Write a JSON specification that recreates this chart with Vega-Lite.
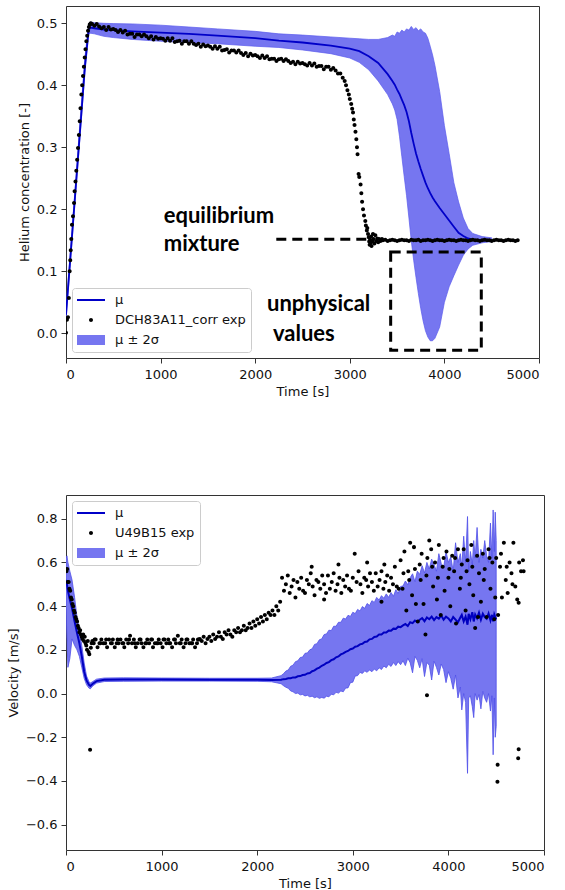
{
"$schema": "https://vega.github.io/schema/vega-lite/v6.json",
"padding": {"left": 6, "top": 5, "right": 5, "bottom": 3},
"datasets": {
"heModel": [
{"t":0,"mu":0.03,"lo":0.02,"hi":0.04},{"t":50,"mu":0.13,"lo":0.12,"hi":0.14},{"t":100,"mu":0.23,"lo":0.22,"hi":0.24},{"t":150,"mu":0.33,"lo":0.32,"hi":0.345},{"t":200,"mu":0.43,"lo":0.42,"hi":0.445},{"t":240,"mu":0.49,"lo":0.482,"hi":0.5},{"t":260,"mu":0.493,"lo":0.484,"hi":0.502},{"t":300,"mu":0.492,"lo":0.483,"hi":0.501},{"t":400,"mu":0.49,"lo":0.479,"hi":0.5},{"t":500,"mu":0.489,"lo":0.477,"hi":0.4995},{"t":700,"mu":0.487,"lo":0.474,"hi":0.499},{"t":1000,"mu":0.485,"lo":0.471,"hi":0.497},{"t":1300,"mu":0.483,"lo":0.469,"hi":0.494},{"t":1600,"mu":0.48,"lo":0.467,"hi":0.491},{"t":2000,"mu":0.476,"lo":0.463,"hi":0.487},{"t":2250,"mu":0.472,"lo":0.461,"hi":0.483},{"t":2500,"mu":0.469,"lo":0.457,"hi":0.481},{"t":2800,"mu":0.464,"lo":0.451,"hi":0.478},{"t":3000,"mu":0.459,"lo":0.444,"hi":0.476},{"t":3100,"mu":0.455,"lo":0.437,"hi":0.475},{"t":3200,"mu":0.447,"lo":0.425,"hi":0.474},{"t":3300,"mu":0.436,"lo":0.407,"hi":0.474},{"t":3400,"mu":0.418,"lo":0.385,"hi":0.477},{"t":3450,"mu":0.407,"lo":0.37,"hi":0.481},{"t":3475,"mu":0.401,"lo":0.36,"hi":0.479},{"t":3500,"mu":0.393,"lo":0.345,"hi":0.486},{"t":3525,"mu":0.386,"lo":0.318,"hi":0.484},{"t":3550,"mu":0.377,"lo":0.285,"hi":0.489},{"t":3575,"mu":0.368,"lo":0.253,"hi":0.486},{"t":3600,"mu":0.357,"lo":0.222,"hi":0.491},{"t":3625,"mu":0.342,"lo":0.186,"hi":0.489},{"t":3650,"mu":0.323,"lo":0.149,"hi":0.495},{"t":3675,"mu":0.306,"lo":0.118,"hi":0.49},{"t":3700,"mu":0.29,"lo":0.09,"hi":0.493},{"t":3725,"mu":0.277,"lo":0.064,"hi":0.488},{"t":3750,"mu":0.265,"lo":0.04,"hi":0.491},{"t":3775,"mu":0.254,"lo":0.02,"hi":0.486},{"t":3800,"mu":0.243,"lo":0.004,"hi":0.484},{"t":3825,"mu":0.234,"lo":-0.006,"hi":0.476},{"t":3850,"mu":0.226,"lo":-0.012,"hi":0.463},{"t":3875,"mu":0.219,"lo":-0.012,"hi":0.449},{"t":3900,"mu":0.213,"lo":-0.008,"hi":0.432},{"t":3950,"mu":0.202,"lo":0.01,"hi":0.39},{"t":4000,"mu":0.192,"lo":0.05,"hi":0.335},{"t":4050,"mu":0.182,"lo":0.075,"hi":0.29},{"t":4100,"mu":0.172,"lo":0.093,"hi":0.243},{"t":4150,"mu":0.162,"lo":0.11,"hi":0.212},{"t":4200,"mu":0.157,"lo":0.126,"hi":0.186},{"t":4250,"mu":0.153,"lo":0.136,"hi":0.169},{"t":4300,"mu":0.151,"lo":0.142,"hi":0.161},{"t":4400,"mu":0.15,"lo":0.146,"hi":0.156},{"t":4500,"mu":0.15,"lo":0.148,"hi":0.154}
],
"heExp": [
{"t":0,"c":0.001},{"t":10,"c":0.022},{"t":21,"c":0.026},{"t":30,"c":0.057},{"t":39,"c":0.1},{"t":45,"c":0.118},{"t":50,"c":0.134},{"t":56,"c":0.152},{"t":63,"c":0.175},{"t":74,"c":0.189},{"t":85,"c":0.21},{"t":91,"c":0.229},{"t":100,"c":0.245},{"t":109,"c":0.262},{"t":118,"c":0.28},{"t":127,"c":0.299},{"t":136,"c":0.32},{"t":145,"c":0.342},{"t":153,"c":0.363},{"t":162,"c":0.385},{"t":171,"c":0.4},{"t":180,"c":0.415},{"t":189,"c":0.43},{"t":198,"c":0.445},{"t":206,"c":0.458},{"t":215,"c":0.471},{"t":224,"c":0.48},{"t":233,"c":0.488},{"t":242,"c":0.494},{"t":251,"c":0.498},{"t":262,"c":0.5},
{"t":275,"c":0.499},{"t":300,"c":0.496},{"t":325,"c":0.499},{"t":350,"c":0.495},{"t":375,"c":0.492},{"t":400,"c":0.494},{"t":425,"c":0.489},{"t":450,"c":0.494},{"t":475,"c":0.49},{"t":500,"c":0.491},{"t":525,"c":0.489},{"t":550,"c":0.486},{"t":575,"c":0.489},{"t":600,"c":0.485},{"t":625,"c":0.488},{"t":650,"c":0.482},{"t":675,"c":0.483},{"t":700,"c":0.483},{"t":725,"c":0.478},{"t":750,"c":0.482},{"t":775,"c":0.482},{"t":800,"c":0.479},{"t":825,"c":0.482},{"t":850,"c":0.479},{"t":875,"c":0.476},{"t":900,"c":0.479},{"t":925,"c":0.474},{"t":950,"c":0.478},{"t":975,"c":0.475},{"t":1000,"c":0.476},{"t":1025,"c":0.475},{"t":1050,"c":0.472},{"t":1075,"c":0.476},{"t":1100,"c":0.472},{"t":1125,"c":0.476},{"t":1150,"c":0.47},{"t":1175,"c":0.471},{"t":1200,"c":0.472},{"t":1225,"c":0.467},{"t":1250,"c":0.471},{"t":1275,"c":0.471},{"t":1300,"c":0.467},{"t":1325,"c":0.471},{"t":1350,"c":0.467},{"t":1375,"c":0.465},{"t":1400,"c":0.467},{"t":1425,"c":0.462},{"t":1450,"c":0.466},{"t":1475,"c":0.463},{"t":1500,"c":0.464},{"t":1525,"c":0.462},{"t":1550,"c":0.459},{"t":1575,"c":0.463},{"t":1600,"c":0.459},{"t":1625,"c":0.462},{"t":1650,"c":0.456},{"t":1675,"c":0.457},{"t":1700,"c":0.458},{"t":1725,"c":0.453},{"t":1750,"c":0.456},{"t":1775,"c":0.456},{"t":1800,"c":0.453},{"t":1825,"c":0.456},{"t":1850,"c":0.452},{"t":1875,"c":0.449},{"t":1900,"c":0.452},{"t":1925,"c":0.447},{"t":1950,"c":0.451},{"t":1975,"c":0.448},{"t":2000,"c":0.449},{"t":2025,"c":0.447},{"t":2050,"c":0.444},{"t":2075,"c":0.448},{"t":2100,"c":0.444},{"t":2125,"c":0.447},{"t":2150,"c":0.442},{"t":2175,"c":0.443},{"t":2200,"c":0.443},{"t":2225,"c":0.439},{"t":2250,"c":0.442},{"t":2275,"c":0.443},{"t":2300,"c":0.439},{"t":2325,"c":0.442},{"t":2350,"c":0.439},{"t":2375,"c":0.436},{"t":2400,"c":0.438},{"t":2425,"c":0.434},{"t":2450,"c":0.438},{"t":2475,"c":0.435},{"t":2500,"c":0.436},{"t":2525,"c":0.434},{"t":2550,"c":0.432},{"t":2575,"c":0.436},{"t":2600,"c":0.432},{"t":2625,"c":0.435},{"t":2650,"c":0.43},{"t":2675,"c":0.431},{"t":2700,"c":0.431},{"t":2725,"c":0.426},{"t":2750,"c":0.43},{"t":2775,"c":0.43},{"t":2800,"c":0.425},{"t":2825,"c":0.428},{"t":2850,"c":0.424},{"t":2875,"c":0.419},{"t":2900,"c":0.419},
{"t":2925,"c":0.412},{"t":2946,"c":0.407},{"t":2960,"c":0.4},{"t":2975,"c":0.392},{"t":2990,"c":0.385},{"t":3000,"c":0.378},{"t":3015,"c":0.37},{"t":3025,"c":0.362},{"t":3034,"c":0.356},{"t":3042,"c":0.345},{"t":3050,"c":0.336},{"t":3060,"c":0.325},{"t":3069,"c":0.313},{"t":3076,"c":0.3},{"t":3082,"c":0.289},{"t":3093,"c":0.257},{"t":3100,"c":0.252},{"t":3114,"c":0.24},{"t":3122,"c":0.226},{"t":3130,"c":0.212},{"t":3140,"c":0.2},{"t":3150,"c":0.19},{"t":3164,"c":0.181},{"t":3170,"c":0.174},{"t":3180,"c":0.166},{"t":3185,"c":0.17},{"t":3193,"c":0.16},{"t":3200,"c":0.155},{"t":3205,"c":0.148},{"t":3210,"c":0.143},{"t":3215,"c":0.151},{"t":3220,"c":0.146},{"t":3225,"c":0.156},{"t":3230,"c":0.141},{"t":3240,"c":0.148},{"t":3245,"c":0.16},{"t":3250,"c":0.152},{"t":3260,"c":0.145},{"t":3270,"c":0.158},{"t":3280,"c":0.149},{"t":3290,"c":0.153},{"t":3300,"c":0.147},{"t":3310,"c":0.152},{"t":3325,"c":0.149},{"t":3340,"c":0.152},
{"t":3350,"c":0.15},{"t":3375,"c":0.151},{"t":3400,"c":0.149},{"t":3425,"c":0.15},{"t":3450,"c":0.151},{"t":3475,"c":0.15},{"t":3500,"c":0.149},{"t":3525,"c":0.15},{"t":3550,"c":0.151},{"t":3575,"c":0.15},{"t":3600,"c":0.15},{"t":3625,"c":0.149},{"t":3650,"c":0.151},{"t":3675,"c":0.15},{"t":3700,"c":0.15},{"t":3725,"c":0.151},{"t":3750,"c":0.149},{"t":3775,"c":0.15},{"t":3800,"c":0.15},{"t":3825,"c":0.151},{"t":3850,"c":0.15},{"t":3875,"c":0.149},{"t":3900,"c":0.15},{"t":3925,"c":0.151},{"t":3950,"c":0.15},{"t":3975,"c":0.15},{"t":4000,"c":0.149},{"t":4025,"c":0.15},{"t":4050,"c":0.151},{"t":4075,"c":0.15},{"t":4100,"c":0.15},{"t":4125,"c":0.149},{"t":4150,"c":0.15},{"t":4175,"c":0.151},{"t":4200,"c":0.15},{"t":4225,"c":0.15},{"t":4250,"c":0.149},{"t":4275,"c":0.15},{"t":4300,"c":0.151},{"t":4325,"c":0.15},{"t":4350,"c":0.15},{"t":4375,"c":0.149},{"t":4400,"c":0.15},{"t":4425,"c":0.151},{"t":4450,"c":0.15},{"t":4475,"c":0.15},{"t":4500,"c":0.149},{"t":4525,"c":0.15},{"t":4550,"c":0.151},{"t":4575,"c":0.15},{"t":4600,"c":0.15},{"t":4625,"c":0.149},{"t":4650,"c":0.15},{"t":4675,"c":0.151},{"t":4700,"c":0.15},{"t":4725,"c":0.15},{"t":4750,"c":0.149},{"t":4775,"c":0.15}
],
"heText": [
{"t":1033,"v":0.178,"label":"equilibrium"},{"t":1033,"v":0.133,"label":"mixture"},{"t":2125,"v":0.036,"label":"unphysical"},{"t":2188,"v":-0.0124,"label":"values"}
],
"heLine": [{"t0":2223,"t1":3260,"v":0.1516}],
"heBox": [{"t0":3432,"t1":4390,"v0":-0.0274,"v1":0.131}],
"velModel": [
{"t":0,"mu":0.52,"lo":0.4,"hi":0.62},{"t":10,"mu":0.5,"lo":0.25,"hi":0.63},{"t":20,"mu":0.47,"lo":0.12,"hi":0.6},{"t":40,"mu":0.43,"lo":0.16,"hi":0.56},{"t":63,"mu":0.39,"lo":0.25,"hi":0.52},{"t":90,"mu":0.33,"lo":0.22,"hi":0.44},{"t":115,"mu":0.278,"lo":0.2,"hi":0.35},{"t":140,"mu":0.23,"lo":0.17,"hi":0.29},{"t":165,"mu":0.17,"lo":0.12,"hi":0.22},{"t":190,"mu":0.1,"lo":0.07,"hi":0.14},{"t":215,"mu":0.06,"lo":0.04,"hi":0.08},{"t":240,"mu":0.04,"lo":0.025,"hi":0.055},{"t":255,"mu":0.035,"lo":0.022,"hi":0.048},{"t":280,"mu":0.045,"lo":0.035,"hi":0.055},{"t":320,"mu":0.057,"lo":0.048,"hi":0.066},{"t":400,"mu":0.063,"lo":0.055,"hi":0.071},{"t":600,"mu":0.064,"lo":0.056,"hi":0.072},{"t":1000,"mu":0.064,"lo":0.057,"hi":0.071},{"t":1500,"mu":0.063,"lo":0.057,"hi":0.07},{"t":2000,"mu":0.063,"lo":0.056,"hi":0.07},{"t":2150,"mu":0.062,"lo":0.054,"hi":0.071},
{"t":2250,"mu":0.063,"lo":0.045,"hi":0.082},{"t":2275,"mu":0.066,"lo":0.036,"hi":0.091},{"t":2300,"mu":0.067,"lo":0.029,"hi":0.103},{"t":2325,"mu":0.07,"lo":0.024,"hi":0.108},{"t":2350,"mu":0.07,"lo":0.012,"hi":0.125},{"t":2375,"mu":0.074,"lo":0.008,"hi":0.13},{"t":2400,"mu":0.074,"lo":0.0,"hi":0.146},{"t":2425,"mu":0.079,"lo":0.002,"hi":0.15},{"t":2450,"mu":0.08,"lo":-0.006,"hi":0.165},{"t":2475,"mu":0.085,"lo":-0.004,"hi":0.167},{"t":2500,"mu":0.086,"lo":-0.011,"hi":0.184},{"t":2525,"mu":0.092,"lo":-0.008,"hi":0.186},{"t":2550,"mu":0.094,"lo":-0.015,"hi":0.2},{"t":2575,"mu":0.102,"lo":-0.012,"hi":0.205},{"t":2600,"mu":0.106,"lo":-0.019,"hi":0.225},{"t":2625,"mu":0.114,"lo":-0.015,"hi":0.228},{"t":2650,"mu":0.119,"lo":-0.022,"hi":0.246},{"t":2675,"mu":0.127,"lo":-0.018,"hi":0.25},{"t":2700,"mu":0.132,"lo":-0.021,"hi":0.27},{"t":2725,"mu":0.14,"lo":-0.012,"hi":0.273},{"t":2750,"mu":0.144,"lo":-0.015,"hi":0.29},{"t":2775,"mu":0.153,"lo":-0.003,"hi":0.288},{"t":2800,"mu":0.157,"lo":-0.006,"hi":0.308},{"t":2825,"mu":0.166,"lo":0.006,"hi":0.308},{"t":2850,"mu":0.17,"lo":0.002,"hi":0.326},{"t":2875,"mu":0.179,"lo":0.012,"hi":0.326},{"t":2900,"mu":0.184,"lo":0.008,"hi":0.345},{"t":2925,"mu":0.191,"lo":0.025,"hi":0.341},{"t":2950,"mu":0.195,"lo":0.026,"hi":0.358},{"t":2975,"mu":0.203,"lo":0.05,"hi":0.353},{"t":3000,"mu":0.206,"lo":0.052,"hi":0.372},{"t":3025,"mu":0.214,"lo":0.08,"hi":0.366},{"t":3050,"mu":0.217,"lo":0.082,"hi":0.385},{"t":3075,"mu":0.225,"lo":0.097,"hi":0.378},{"t":3100,"mu":0.228,"lo":0.092,"hi":0.398},{"t":3125,"mu":0.236,"lo":0.104,"hi":0.39},{"t":3150,"mu":0.238,"lo":0.097,"hi":0.412},{"t":3175,"mu":0.248,"lo":0.108,"hi":0.403},{"t":3200,"mu":0.25,"lo":0.1,"hi":0.425},{"t":3225,"mu":0.259,"lo":0.112,"hi":0.417},{"t":3250,"mu":0.261,"lo":0.104,"hi":0.44},{"t":3275,"mu":0.27,"lo":0.118,"hi":0.428},{"t":3300,"mu":0.27,"lo":0.11,"hi":0.448},{"t":3325,"mu":0.279,"lo":0.126,"hi":0.436},{"t":3350,"mu":0.279,"lo":0.118,"hi":0.456},{"t":3375,"mu":0.288,"lo":0.134,"hi":0.44},{"t":3400,"mu":0.287,"lo":0.124,"hi":0.462},{"t":3425,"mu":0.297,"lo":0.142,"hi":0.445},{"t":3450,"mu":0.296,"lo":0.128,"hi":0.475},{"t":3475,"mu":0.306,"lo":0.146,"hi":0.458},{"t":3500,"mu":0.304,"lo":0.132,"hi":0.49},
{"t":3525,"mu":0.312,"lo":0.15,"hi":0.492},{"t":3550,"mu":0.318,"lo":0.128,"hi":0.515},{"t":3575,"mu":0.309,"lo":0.162,"hi":0.498},{"t":3600,"mu":0.326,"lo":0.141,"hi":0.53},{"t":3625,"mu":0.322,"lo":0.095,"hi":0.548},{"t":3650,"mu":0.334,"lo":0.17,"hi":0.512},{"t":3675,"mu":0.327,"lo":0.152,"hi":0.56},{"t":3700,"mu":0.338,"lo":0.118,"hi":0.545},{"t":3725,"mu":0.345,"lo":0.16,"hi":0.585},{"t":3750,"mu":0.331,"lo":0.078,"hi":0.552},{"t":3775,"mu":0.348,"lo":0.142,"hi":0.6},{"t":3800,"mu":0.34,"lo":0.13,"hi":0.57},{"t":3825,"mu":0.352,"lo":0.062,"hi":0.615},{"t":3850,"mu":0.336,"lo":0.148,"hi":0.59},{"t":3875,"mu":0.35,"lo":0.12,"hi":0.56},{"t":3900,"mu":0.343,"lo":0.085,"hi":0.64},{"t":3925,"mu":0.357,"lo":0.135,"hi":0.595},{"t":3950,"mu":0.338,"lo":0.11,"hi":0.575},{"t":3975,"mu":0.352,"lo":0.05,"hi":0.65},{"t":4000,"mu":0.344,"lo":0.1,"hi":0.6},{"t":4025,"mu":0.33,"lo":0.07,"hi":0.625},{"t":4050,"mu":0.35,"lo":0.02,"hi":0.56},{"t":4075,"mu":0.338,"lo":0.085,"hi":0.69},{"t":4100,"mu":0.326,"lo":-0.02,"hi":0.6},{"t":4125,"mu":0.348,"lo":0.03,"hi":0.64},{"t":4140,"mu":0.36,"lo":-0.075,"hi":0.58},{"t":4160,"mu":0.33,"lo":0.0,"hi":0.72},{"t":4180,"mu":0.352,"lo":-0.04,"hi":0.6},{"t":4200,"mu":0.315,"lo":-0.365,"hi":0.81},{"t":4212,"mu":0.365,"lo":-0.02,"hi":0.56},{"t":4230,"mu":0.34,"lo":-0.01,"hi":0.65},{"t":4250,"mu":0.372,"lo":-0.06,"hi":0.59},{"t":4265,"mu":0.33,"lo":-0.11,"hi":0.7},{"t":4280,"mu":0.362,"lo":0.0,"hi":0.62},{"t":4300,"mu":0.345,"lo":-0.03,"hi":0.76},{"t":4320,"mu":0.37,"lo":-0.005,"hi":0.6},{"t":4340,"mu":0.338,"lo":-0.07,"hi":0.66},{"t":4360,"mu":0.365,"lo":0.01,"hi":0.62},{"t":4380,"mu":0.35,"lo":-0.02,"hi":0.7},{"t":4400,"mu":0.342,"lo":-0.04,"hi":0.63},{"t":4420,"mu":0.366,"lo":0.0,"hi":0.6},{"t":4440,"mu":0.335,"lo":-0.08,"hi":0.78},{"t":4455,"mu":0.36,"lo":-0.01,"hi":0.62},{"t":4468,"mu":0.33,"lo":-0.28,"hi":0.84},{"t":4480,"mu":0.362,"lo":-0.02,"hi":0.65},{"t":4490,"mu":0.35,"lo":-0.2,"hi":0.83},{"t":4500,"mu":0.34,"lo":-0.15,"hi":0.7}
],
"velExp": [
{"t":5,"v":0.56},{"t":12,"v":0.57},{"t":20,"v":0.51},{"t":28,"v":0.51},{"t":36,"v":0.48},{"t":44,"v":0.47},{"t":52,"v":0.44},{"t":60,"v":0.43},{"t":68,"v":0.41},{"t":76,"v":0.4},{"t":84,"v":0.38},{"t":92,"v":0.37},{"t":100,"v":0.35},{"t":108,"v":0.34},{"t":116,"v":0.33},{"t":124,"v":0.31},{"t":132,"v":0.3},{"t":140,"v":0.28},{"t":148,"v":0.29},{"t":156,"v":0.27},{"t":164,"v":0.26},{"t":172,"v":0.25},{"t":180,"v":0.27},{"t":188,"v":0.24},{"t":196,"v":0.26},{"t":204,"v":0.23},{"t":212,"v":0.22},{"t":220,"v":0.2},{"t":228,"v":0.24},{"t":236,"v":0.19},{"t":244,"v":0.18},{"t":252,"v":-0.257},{"t":260,"v":0.21},{"t":268,"v":0.23},{"t":276,"v":0.24},
{"t":290,"v":0.23},{"t":310,"v":0.247},{"t":330,"v":0.212},{"t":350,"v":0.23},{"t":370,"v":0.247},{"t":390,"v":0.23},{"t":410,"v":0.23},{"t":430,"v":0.212},{"t":450,"v":0.247},{"t":470,"v":0.23},{"t":490,"v":0.247},{"t":510,"v":0.212},{"t":530,"v":0.23},{"t":550,"v":0.23},{"t":570,"v":0.247},{"t":590,"v":0.23},{"t":610,"v":0.212},{"t":630,"v":0.247},{"t":650,"v":0.23},{"t":670,"v":0.265},{"t":690,"v":0.23},{"t":710,"v":0.247},{"t":730,"v":0.212},{"t":750,"v":0.23},{"t":770,"v":0.247},{"t":790,"v":0.23},{"t":810,"v":0.212},{"t":830,"v":0.23},{"t":850,"v":0.247},{"t":870,"v":0.23},{"t":890,"v":0.247},{"t":910,"v":0.212},{"t":930,"v":0.23},{"t":950,"v":0.23},{"t":970,"v":0.247},{"t":990,"v":0.23},{"t":1010,"v":0.212},{"t":1030,"v":0.247},{"t":1050,"v":0.23},{"t":1070,"v":0.247},{"t":1090,"v":0.23},{"t":1110,"v":0.212},{"t":1130,"v":0.247},{"t":1150,"v":0.23},{"t":1170,"v":0.265},{"t":1190,"v":0.23},{"t":1210,"v":0.247},{"t":1230,"v":0.212},{"t":1250,"v":0.23},{"t":1270,"v":0.247},{"t":1290,"v":0.23},{"t":1310,"v":0.23},{"t":1330,"v":0.247},{"t":1350,"v":0.212},{"t":1370,"v":0.23},{"t":1390,"v":0.247},
{"t":300,"v":0.247},{"t":360,"v":0.23},{"t":420,"v":0.247},{"t":480,"v":0.23},{"t":540,"v":0.247},{"t":600,"v":0.23},{"t":660,"v":0.247},{"t":720,"v":0.23},{"t":780,"v":0.247},{"t":840,"v":0.23},{"t":900,"v":0.247},{"t":960,"v":0.23},{"t":1020,"v":0.247},{"t":1080,"v":0.23},{"t":1140,"v":0.247},{"t":1200,"v":0.23},{"t":1260,"v":0.247},{"t":1320,"v":0.23},{"t":1380,"v":0.247},
{"t":1400,"v":0.25},{"t":1420,"v":0.24},{"t":1440,"v":0.26},{"t":1460,"v":0.23},{"t":1480,"v":0.25},{"t":1500,"v":0.26},{"t":1520,"v":0.24},{"t":1540,"v":0.27},{"t":1560,"v":0.25},{"t":1580,"v":0.26},{"t":1600,"v":0.28},{"t":1620,"v":0.26},{"t":1640,"v":0.25},{"t":1660,"v":0.28},{"t":1680,"v":0.27},{"t":1700,"v":0.29},{"t":1720,"v":0.27},{"t":1740,"v":0.26},{"t":1760,"v":0.29},{"t":1780,"v":0.28},{"t":1800,"v":0.3},{"t":1820,"v":0.28},{"t":1840,"v":0.29},{"t":1860,"v":0.31},{"t":1880,"v":0.29},{"t":1900,"v":0.3},{"t":1920,"v":0.32},{"t":1940,"v":0.3},{"t":1960,"v":0.33},{"t":1980,"v":0.31},{"t":2000,"v":0.34},{"t":2020,"v":0.32},{"t":2040,"v":0.35},{"t":2060,"v":0.33},{"t":2080,"v":0.36},{"t":2100,"v":0.34},{"t":2120,"v":0.37},{"t":2140,"v":0.36},{"t":2160,"v":0.38},{"t":2180,"v":0.36},{"t":2200,"v":0.4},{"t":2220,"v":0.38},{"t":2240,"v":0.42},
{"t":2260,"v":0.53},{"t":2280,"v":0.47},{"t":2300,"v":0.5},{"t":2320,"v":0.54},{"t":2340,"v":0.46},{"t":2360,"v":0.49},{"t":2380,"v":0.52},{"t":2400,"v":0.44},{"t":2420,"v":0.51},{"t":2440,"v":0.48},{"t":2460,"v":0.53},{"t":2480,"v":0.47},{"t":2500,"v":0.46},{"t":2520,"v":0.52},{"t":2540,"v":0.5},{"t":2560,"v":0.55},{"t":2580,"v":0.49},{"t":2600,"v":0.45},{"t":2620,"v":0.52},{"t":2640,"v":0.51},{"t":2660,"v":0.48},{"t":2680,"v":0.54},{"t":2700,"v":0.5},{"t":2720,"v":0.46},{"t":2740,"v":0.54},{"t":2760,"v":0.48},{"t":2780,"v":0.51},{"t":2800,"v":0.55},{"t":2820,"v":0.47},{"t":2840,"v":0.5},{"t":2860,"v":0.53},{"t":2880,"v":0.46},{"t":2900,"v":0.52},{"t":2920,"v":0.49},{"t":2940,"v":0.54},{"t":2960,"v":0.48},{"t":2980,"v":0.47},{"t":3000,"v":0.53},{"t":3020,"v":0.64},{"t":3040,"v":0.51},{"t":3060,"v":0.56},{"t":3080,"v":0.5},{"t":3100,"v":0.46},{"t":3120,"v":0.53},{"t":3140,"v":0.52},{"t":3160,"v":0.49},{"t":3180,"v":0.55},{"t":3200,"v":0.51},{"t":3220,"v":0.47},{"t":3240,"v":0.55},{"t":3260,"v":0.49},{"t":3280,"v":0.52},{"t":3300,"v":0.56},{"t":3320,"v":0.48},{"t":3340,"v":0.51},{"t":3360,"v":0.54},{"t":3380,"v":0.47},{"t":3400,"v":0.53},{"t":3420,"v":0.5},{"t":3440,"v":0.58},{"t":3460,"v":0.49},{"t":3480,"v":0.48},
{"t":2570,"v":0.58},{"t":2850,"v":0.59},{"t":3150,"v":0.6},{"t":3330,"v":0.59},{"t":2700,"v":0.43},{"t":3300,"v":0.42},
{"t":3500,"v":0.61},{"t":3520,"v":0.48},{"t":3540,"v":0.65},{"t":3560,"v":0.38},{"t":3580,"v":0.56},{"t":3600,"v":0.69},{"t":3620,"v":0.45},{"t":3640,"v":0.67},{"t":3660,"v":0.41},{"t":3680,"v":0.33},{"t":3700,"v":0.59},{"t":3720,"v":0.64},{"t":3740,"v":0.41},{"t":3760,"v":0.27},{"t":3780,"v":0.62},{"t":3800,"v":0.7},{"t":3820,"v":0.66},{"t":3840,"v":0.49},{"t":3860,"v":0.6},{"t":3880,"v":0.43},{"t":3900,"v":0.68},{"t":3920,"v":0.36},{"t":3940,"v":0.58},{"t":3960,"v":0.47},{"t":3980,"v":0.65},{"t":4000,"v":0.53},{"t":4020,"v":0.4},{"t":4040,"v":0.63},{"t":4060,"v":0.56},{"t":4080,"v":0.32},{"t":4100,"v":0.66},{"t":4120,"v":0.48},{"t":4140,"v":0.59},{"t":4160,"v":0.66},{"t":4180,"v":0.38},{"t":4200,"v":0.61},{"t":4220,"v":0.5},{"t":4240,"v":0.68},{"t":4260,"v":0.45},{"t":4280,"v":0.3},{"t":4300,"v":0.63},{"t":4320,"v":0.55},{"t":4340,"v":0.42},{"t":4360,"v":0.64},{"t":4380,"v":0.57},{"t":4400,"v":0.35},{"t":4420,"v":0.66},{"t":4440,"v":0.48},{"t":4460,"v":0.6},{"t":4480,"v":0.34},{"t":4500,"v":0.62},{"t":4520,"v":0.36},{"t":4540,"v":0.58},{"t":4560,"v":0.44},{"t":4580,"v":0.69},{"t":4600,"v":0.52},{"t":4620,"v":0.46},{"t":4640,"v":0.6},{"t":4660,"v":0.55},{"t":4680,"v":0.69},{"t":4700,"v":0.49},{"t":4720,"v":0.43},{"t":4740,"v":0.6},{"t":4760,"v":0.56},{"t":4780,"v":0.61},
{"t":3530,"v":0.55},{"t":3590,"v":0.52},{"t":3650,"v":0.57},{"t":3710,"v":0.52},{"t":3770,"v":0.54},{"t":3830,"v":0.58},{"t":3890,"v":0.53},{"t":3950,"v":0.62},{"t":4010,"v":0.57},{"t":4070,"v":0.62},{"t":4130,"v":0.53},{"t":4190,"v":0.56},{"t":4250,"v":0.58},{"t":4310,"v":0.35},{"t":4370,"v":0.52},{"t":4430,"v":0.62},{"t":4490,"v":0.44},{"t":4550,"v":0.64},{"t":4610,"v":0.58},{"t":4670,"v":0.5},{"t":4735,"v":0.415},{"t":4787,"v":0.56},
{"t":3776,"v":-0.008},{"t":4515,"v":-0.326},{"t":4513,"v":-0.404},{"t":4735,"v":-0.255},{"t":4730,"v":-0.296}
]
},
"config": {
"view": {"stroke": "#333333", "strokeWidth": 1},
"axis": {"domain": false, "grid": false, "tickColor": "#333333", "tickSize": 5, "labelFont": "DejaVu Sans", "labelFontSize": 13, "labelColor": "#111111", "titleFont": "DejaVu Sans", "titleFontSize": 13, "titleFontWeight": "normal", "titleColor": "#111111"},
"axisX": {"labelPadding": 5, "titlePadding": 4},
"axisY": {"labelPadding": 4, "titlePadding": 5},
"legend": {"offset": 6, "padding": 5, "strokeColor": "#cccccc", "fillColor": "rgba(255,255,255,0.8)", "cornerRadius": 3, "labelFont": "DejaVu Sans", "labelFontSize": 13, "labelColor": "#111111", "symbolSize": 784, "symbolStrokeWidth": 0, "rowPadding": 6, "labelOffset": 10, "clipHeight": 14}
},
"spacing": 95,
"resolve": {"scale": {"x": "independent", "y": "independent", "color": "independent", "shape": "independent"}, "legend": {"color": "independent", "shape": "independent"}},
"vconcat": [
{
"width": 473, "height": 352,
"layer": [
{"data": {"name": "heModel"}, "mark": {"type": "area", "color": "#7676f0", "stroke": "#5a5aec", "strokeWidth": 0.7, "clip": true},
 "encoding": {
  "x": {"field": "t", "type": "quantitative", "title": "Time [s]", "scale": {"domain": [0, 5000], "nice": false}, "axis": {"values": [0, 1000, 2000, 3000, 4000, 5000], "format": "d"}},
  "y": {"field": "lo", "type": "quantitative", "title": "Helium concentration [-]", "scale": {"domain": [-0.0398, 0.5279], "nice": false, "zero": false}, "axis": {"values": [0, 0.1, 0.2, 0.3, 0.4, 0.5], "format": ".1f"}},
  "y2": {"field": "hi"}}},
{"data": {"name": "heModel"}, "mark": {"type": "line", "color": "#0000c8", "strokeWidth": 1.8, "clip": true},
 "encoding": {"x": {"field": "t", "type": "quantitative", "title": "Time [s]"}, "y": {"field": "mu", "type": "quantitative", "title": "Helium concentration [-]"}}},
{"data": {"name": "heExp"}, "mark": {"type": "point", "filled": true, "size": 784, "opacity": 1, "clip": true},
 "encoding": {"x": {"field": "t", "type": "quantitative", "title": "Time [s]"}, "y": {"field": "c", "type": "quantitative", "title": "Helium concentration [-]"},
  "color": {"datum": "DCH83A11_corr exp", "type": "nominal", "scale": {"domain": ["μ", "DCH83A11_corr exp", "μ ± 2σ"], "range": ["#0000c8", "#000000", "#7676f0"]}, "legend": {"orient": "bottom-left", "title": null}},
  "shape": {"datum": "DCH83A11_corr exp", "type": "nominal", "scale": {"domain": ["μ", "DCH83A11_corr exp", "μ ± 2σ"], "range": ["M-1,-0.075H1V0.075H-1Z", "M-0.143,0A0.143,0.143 0 1,0 0.143,0A0.143,0.143 0 1,0 -0.143,0Z", "M-1,-0.36H1V0.36H-1Z"]}, "legend": {"orient": "bottom-left", "title": null}}}},
{"data": {"name": "heLine"}, "mark": {"type": "rule", "color": "#000000", "strokeWidth": 3, "strokeDash": [10, 6]},
 "encoding": {"x": {"field": "t0", "type": "quantitative", "title": "Time [s]"}, "x2": {"field": "t1"}, "y": {"field": "v", "type": "quantitative", "title": "Helium concentration [-]"}}},
{"data": {"name": "heBox"}, "mark": {"type": "rect", "filled": false, "color": "#000000", "strokeWidth": 3, "strokeDash": [10, 6]},
 "encoding": {"x": {"field": "t0", "type": "quantitative", "title": "Time [s]"}, "x2": {"field": "t1"}, "y": {"field": "v0", "type": "quantitative", "title": "Helium concentration [-]"}, "y2": {"field": "v1"}}},
{"data": {"name": "heText"}, "mark": {"type": "text", "font": "Lato", "fontWeight": "bold", "fontSize": 22, "align": "left", "baseline": "alphabetic", "color": "#000000"},
 "encoding": {"x": {"field": "t", "type": "quantitative", "title": "Time [s]"}, "y": {"field": "v", "type": "quantitative", "title": "Helium concentration [-]"}, "text": {"field": "label"}}}
]
},
{
"width": 478, "height": 355,
"layer": [
{"data": {"name": "velModel"}, "mark": {"type": "area", "color": "#7676f0", "stroke": "#4f4fe8", "strokeWidth": 0.8, "clip": true},
 "encoding": {
  "x": {"field": "t", "type": "quantitative", "title": "Time [s]", "scale": {"domain": [0, 5000], "nice": false}, "axis": {"values": [0, 1000, 2000, 3000, 4000, 5000], "format": "d"}},
  "y": {"field": "lo", "type": "quantitative", "title": "Velocity [m/s]", "scale": {"domain": [-0.7158, 0.9085], "nice": false, "zero": false}, "axis": {"values": [-0.6, -0.4, -0.2, 0, 0.2, 0.4, 0.6, 0.8], "format": ".1f"}},
  "y2": {"field": "hi"}}},
{"data": {"name": "velModel"}, "mark": {"type": "line", "color": "#0000c0", "strokeWidth": 2, "clip": true},
 "encoding": {"x": {"field": "t", "type": "quantitative", "title": "Time [s]"}, "y": {"field": "mu", "type": "quantitative", "title": "Velocity [m/s]"}}},
{"data": {"name": "velExp"}, "mark": {"type": "point", "filled": true, "size": 784, "opacity": 1, "clip": true},
 "encoding": {"x": {"field": "t", "type": "quantitative", "title": "Time [s]"}, "y": {"field": "v", "type": "quantitative", "title": "Velocity [m/s]"},
  "color": {"datum": "U49B15 exp", "type": "nominal", "scale": {"domain": ["μ", "U49B15 exp", "μ ± 2σ"], "range": ["#0000c8", "#000000", "#7676f0"]}, "legend": {"orient": "top-left", "title": null}},
  "shape": {"datum": "U49B15 exp", "type": "nominal", "scale": {"domain": ["μ", "U49B15 exp", "μ ± 2σ"], "range": ["M-1,-0.075H1V0.075H-1Z", "M-0.143,0A0.143,0.143 0 1,0 0.143,0A0.143,0.143 0 1,0 -0.143,0Z", "M-1,-0.36H1V0.36H-1Z"]}, "legend": {"orient": "top-left", "title": null}}}}
]
}
]
}
